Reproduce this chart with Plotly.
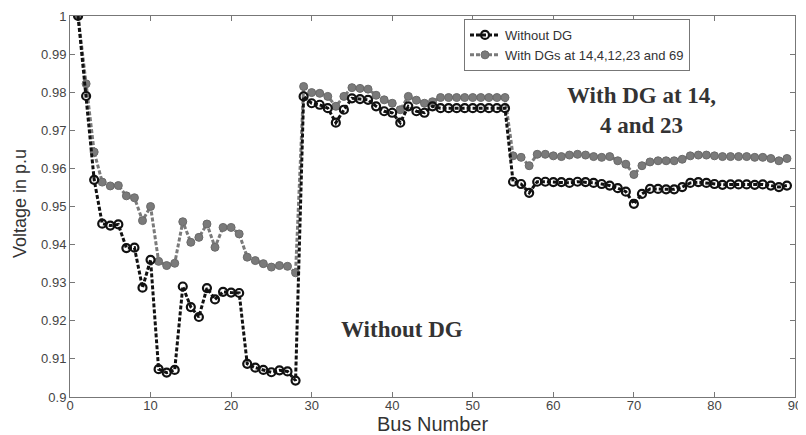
import plotly.graph_objects as go

bus = list(range(1, 90))

without_dg = [
    1.0, 0.979, 0.957, 0.9455, 0.945, 0.9453, 0.9391, 0.9392, 0.9287, 0.936,
    0.9073, 0.9064, 0.9071, 0.929, 0.9236, 0.921, 0.9286, 0.9256, 0.9276, 0.9274,
    0.9273, 0.9087, 0.9077, 0.9071, 0.9065, 0.907, 0.9067, 0.9043, 0.9789, 0.9771,
    0.9767, 0.9758, 0.972, 0.9754, 0.9784, 0.9782, 0.978, 0.9763, 0.975, 0.9746,
    0.972, 0.9763, 0.975, 0.9746, 0.9763, 0.9758, 0.9758, 0.9758, 0.9758, 0.9758,
    0.9758, 0.9758, 0.9758, 0.9758, 0.9565, 0.9559, 0.9536, 0.9565, 0.9565, 0.9564,
    0.9564, 0.9562, 0.9565, 0.9564, 0.9562, 0.9559, 0.9555, 0.9548, 0.9539, 0.9507,
    0.9533, 0.9546, 0.9546, 0.9545, 0.9545, 0.9551, 0.9562, 0.9564, 0.9562, 0.9559,
    0.9557, 0.9558, 0.9558, 0.9558, 0.9557, 0.9558, 0.9555, 0.9551, 0.9555,
]

with_dg = [
    1.0, 0.9822, 0.9643, 0.9564, 0.9554, 0.9555, 0.9528, 0.9523, 0.9463, 0.95,
    0.9356, 0.9345, 0.9351, 0.946, 0.9406, 0.9419, 0.9454, 0.9393, 0.9445, 0.9445,
    0.9428, 0.9367, 0.9358, 0.935, 0.9341, 0.9345, 0.9343, 0.9326, 0.9815, 0.9799,
    0.9797, 0.9789, 0.9763, 0.9789, 0.9812, 0.981, 0.9808, 0.9792, 0.978, 0.9771,
    0.9754, 0.9789, 0.9779, 0.9771, 0.9775, 0.9786, 0.9786, 0.9786, 0.9786, 0.9786,
    0.9786, 0.9786, 0.9786, 0.9786, 0.9633, 0.9629, 0.9607, 0.9637, 0.9637, 0.9633,
    0.9631, 0.9635, 0.9637, 0.9635, 0.9631, 0.9629, 0.9631, 0.962, 0.9611, 0.9584,
    0.9607, 0.9617, 0.962, 0.962, 0.962, 0.9624, 0.9633, 0.9635, 0.9635, 0.9633,
    0.9631, 0.9631, 0.9631, 0.9631, 0.9629, 0.9629, 0.9626, 0.962, 0.9626,
]

x_ticks = [0, 10, 20, 30, 40, 50, 60, 70, 80, 90]
y_ticks = [0.9, 0.91, 0.92, 0.93, 0.94, 0.95, 0.96, 0.97, 0.98, 0.99, 1.0]
y_tick_labels = ["0.9", "0.91", "0.92", "0.93", "0.94", "0.95", "0.96", "0.97", "0.98", "0.99", "1"]

series_names = ["Without DG", "With DGs at 14,4,12,23 and 69"]

fig = go.Figure()
fig.add_trace(go.Scatter(
    x=bus, y=with_dg, name=series_names[1], mode="lines+markers",
    line=dict(color="#7a7a7a", width=3, dash="4px,2px"),
    marker=dict(symbol="circle", size=8, color="#7a7a7a", line=dict(color="#6a6a6a", width=1)),
))
fig.add_trace(go.Scatter(
    x=bus, y=without_dg, name=series_names[0], mode="lines+markers",
    line=dict(color="#111111", width=3, dash="4px,2px"),
    marker=dict(symbol="circle-open", size=8, color="#111111", line=dict(width=2.2)),
))

axis_common = dict(
    showgrid=False, zeroline=False, showline=True, linecolor="#777777", linewidth=1,
    mirror="ticks", ticks="inside", ticklen=5, tickcolor="#777777",
    tickfont=dict(family="Liberation Sans, Arial", size=13, color="#444444"),
    automargin=False, ticklabeloverflow="allow",
)

# page is offset by the default 8px body margin; plot area spans page px 70..795, 16..397
W, H = 798, 427
L, R, T, B = 62, 11, 8, 38
PX0, PY0 = 70, 16          # page position of plot area top-left
PW, PH = 725, 381          # plot area size


def px_to_paper(px, py):
    return (px - PX0) / PW, (PY0 + PH - py) / PH


lx, ly = px_to_paper(464, 19)
yt_x, yt_y = px_to_paper(20, 204)
xt_x, xt_y = px_to_paper(432, 424)

fig.update_layout(
    width=W, height=H,
    margin=dict(l=L, r=R, t=T, b=B, pad=0),
    paper_bgcolor="white", plot_bgcolor="white",
    xaxis=dict(range=[0, 90], tickvals=x_ticks, ticklabelstandoff=-4, **axis_common),
    yaxis=dict(range=[0.9, 1.0], tickvals=y_ticks, ticktext=y_tick_labels, **axis_common),
    legend=dict(
        x=lx, y=ly, xanchor="left", yanchor="top",
        bgcolor="white", bordercolor="#777777", borderwidth=1,
        font=dict(family="Liberation Sans, Arial", size=13, color="#333333"),
        traceorder="reversed", itemwidth=30, tracegroupgap=0,
    ),
    showlegend=True,
    annotations=[
        dict(text="<b>With DG at 14,<br>4 and 23</b>", x=71.0, y=0.9752, xref="x", yref="y",
             showarrow=False, align="center", xanchor="center", yanchor="middle",
             font=dict(family="Liberation Serif, Times New Roman", size=23, color="#333333")),
        dict(text="<b>Without DG</b>", x=41.2, y=0.9177, xref="x", yref="y",
             showarrow=False, xanchor="center", yanchor="middle",
             font=dict(family="Liberation Serif, Times New Roman", size=23, color="#333333")),
        dict(text="Voltage in p.u", x=yt_x, y=yt_y, xref="paper", yref="paper",
             showarrow=False, textangle=-90, xanchor="center", yanchor="middle",
             font=dict(family="Liberation Sans, Arial", size=18, color="#333333")),
        dict(text="Bus Number", x=xt_x, y=xt_y, xref="paper", yref="paper",
             showarrow=False, xanchor="center", yanchor="middle",
             font=dict(family="Liberation Sans, Arial", size=20, color="#333333")),
    ],
)

fig.write_html("out.html")
